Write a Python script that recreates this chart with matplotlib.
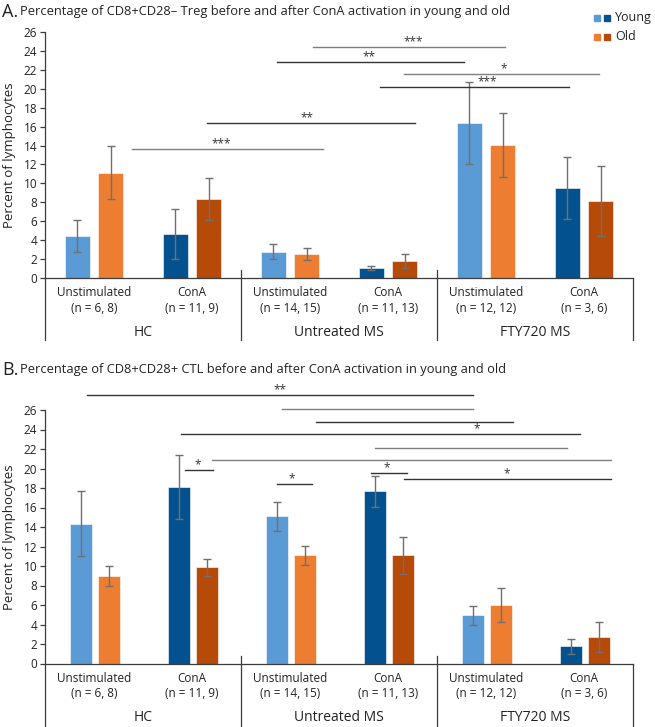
import numpy as np
import matplotlib
matplotlib.use('Agg')
import matplotlib.pyplot as plt
import matplotlib.transforms as mtransforms
from matplotlib.lines import Line2D
from matplotlib.patches import Rectangle

plt.rcParams['font.family'] = ['Open Sans', 'DejaVu Sans']

conditions = ['Unstimulated', 'ConA', 'Unstimulated', 'ConA', 'Unstimulated', 'ConA']
n_labels = ['(n = 6, 8)', '(n = 11, 9)', '(n = 14, 15)', '(n = 11, 13)', '(n = 12, 12)', '(n = 3, 6)']
groups = ['HC', 'Untreated MS', 'FTY720 MS']

# A: CD8+CD28- Treg
treg_young = [4.45, 4.65, 2.8, 1.05, 16.4, 9.5]
treg_young_err = [1.65, 2.65, 0.8, 0.2, 4.3, 3.3]
treg_old = [11.1, 8.35, 2.5, 1.8, 14.05, 8.1]
treg_old_err = [2.8, 2.2, 0.65, 0.7, 3.35, 3.7]

# B: CD8+CD28+ CTL
ctl_young = [14.35, 18.1, 15.1, 17.65, 4.95, 1.75]
ctl_young_err = [3.3, 3.3, 1.5, 1.55, 0.95, 0.75]
ctl_old = [9.0, 9.85, 11.1, 11.1, 6.0, 2.75]
ctl_old_err = [1.05, 0.9, 1.0, 1.9, 1.7, 1.55]

# significance lines: x from, x to, y, label, label x, dark line?
treg_sig = [(2.23, 4.19, 24.45, '***', 3.26, False),
            (1.87, 3.78, 22.85, '**', 2.81, True),
            (3.16, 5.15, 21.6, '*', 4.18, False),
            (2.92, 4.85, 20.2, '***', 4.01, True),
            (1.15, 3.28, 16.4, '**', 2.17, True),
            (0.39, 2.34, 13.6, '***', 1.30, False)]
ctl_sig = [(-0.07, 3.87, 27.5, '**', 1.90, True),
           (1.92, 3.87, 26.1, '', 0, False),
           (2.27, 4.28, 24.8, '', 0, True),
           (0.89, 4.96, 23.5, '*', 3.91, True),
           (2.87, 4.83, 22.1, '', 0, False),
           (1.20, 5.28, 20.9, '', 0, False),
           (0.93, 1.21, 19.85, '*', 1.06, True),
           (2.83, 3.19, 19.55, '*', 2.99, True),
           (3.16, 5.28, 18.9, '*', 4.21, True),
           (1.87, 2.22, 18.4, '*', 2.02, True)]

young_cols = ['#5B9BD5', '#03528F'] * 3
old_cols = ['#ED7D31', '#B64A08'] * 3
axis_col = '#3c3c3c'

fig = plt.figure(figsize=(6.55, 7.27), dpi=100)
W, H = 655, 727


def panel(rect, young, yerr, old, oerr, sig, offs, width, depth):
    ax = fig.add_axes(rect)
    x = np.arange(6)
    ax.bar(x + offs[0], young, width, color=young_cols, edgecolor='white', linewidth=0.4, zorder=2)
    ax.bar(x + offs[1], old, width, color=old_cols, edgecolor='white', linewidth=0.4, zorder=2)
    ax.errorbar(x + offs[0], young, yerr=yerr, fmt='none', ecolor='#707070', elinewidth=1, capsize=3, capthick=1, zorder=3)
    ax.errorbar(x + offs[1], old, yerr=oerr, fmt='none', ecolor='#707070', elinewidth=1, capsize=3, capthick=1, zorder=3)
    ax.set_xlim(-0.5, 5.5)
    ax.set_ylim(0, 26)
    ax.set_yticks(range(0, 27, 2))
    ax.set_xticks([])
    for s in ['top', 'right']:
        ax.spines[s].set_visible(False)
    for s in ['left', 'bottom']:
        ax.spines[s].set_color(axis_col)
        ax.spines[s].set_linewidth(0.9)
    ax.tick_params(axis='y', length=3.5, width=0.9, color=axis_col, labelsize=8.5, pad=2, labelcolor='#222222')
    ax.set_ylabel('Percent of lymphocytes', fontsize=9.5, color='#222222')
    ax.yaxis.set_label_coords(-0.05, 0.5)

    # frame below the axis
    tr = ax.get_xaxis_transform()
    above = 8 / (rect[3] * H)
    for xv, top in [(-0.5, 0), (1.5, above), (3.5, above), (5.5, 0)]:
        ax.add_line(Line2D([xv, xv], [top, -depth], transform=tr, color=axis_col, lw=0.9, clip_on=False))

    for i in range(6):
        t1 = mtransforms.offset_copy(tr, fig=fig, y=-15, units='dots')
        t2 = mtransforms.offset_copy(tr, fig=fig, y=-30, units='dots')
        ax.text(i, 0, conditions[i], transform=t1, ha='center', va='center', fontsize=8.5, color='#222222')
        ax.text(i, 0, n_labels[i], transform=t2, ha='center', va='center', fontsize=8.5, color='#222222')
    t3 = mtransforms.offset_copy(tr, fig=fig, y=-54, units='dots')
    for j, g in enumerate(groups):
        ax.text(2 * j + 0.5, 0, g, transform=t3, ha='center', va='center', fontsize=10, color='#222222')

    for x0, x1, y, lab, lx, dark in sig:
        ax.plot([x0, x1], [y, y], color='#333333' if dark else '#7f7f7f', lw=1, clip_on=False, zorder=4)
        if lab:
            ax.text(lx, y + 0.55, lab, ha='center', va='center', fontsize=8.5, color='#333333', clip_on=False)
    return ax


axA = panel([45 / W, 1 - 278 / H, 588 / W, 246 / H], treg_young, treg_young_err, treg_old, treg_old_err,
            treg_sig, (-0.17, 0.17), 0.26, 62 / 246)
axB = panel([45 / W, 1 - 663.5 / H, 588 / W, 253.5 / H], ctl_young, ctl_young_err, ctl_old, ctl_old_err,
            ctl_sig, (-0.135, 0.15), 0.225, 64 / 253.5)

# titles
fig.text(2 / W, 1 - 12 / H, 'A.', fontsize=13, va='center', ha='left', color='#222222')
fig.text(20 / W, 1 - 12 / H, 'Percentage of CD8+CD28\u2013 Treg before and after ConA activation in young and old',
         fontsize=9.3, va='center', ha='left', color='#222222')
fig.text(2 / W, 1 - 370 / H, 'B.', fontsize=13, va='center', ha='left', color='#222222')
fig.text(20 / W, 1 - 370 / H, 'Percentage of CD8+CD28+ CTL before and after ConA activation in young and old',
         fontsize=9.3, va='center', ha='left', color='#222222')

# legend
for row, (lab, cols) in enumerate([('Young', young_cols[:2]), ('Old', old_cols[:2])]):
    yc = 18 + row * 19
    for k, c in enumerate(cols):
        fig.patches.append(Rectangle(((594 + 10 * k) / W, 1 - (yc + 3) / H), 6 / W, 6 / H,
                                     transform=fig.transFigure, color=c))
    fig.text(615 / W, 1 - yc / H, lab, fontsize=9, va='center', ha='left', color='#222222')

fig.savefig('out.png', dpi=100)
